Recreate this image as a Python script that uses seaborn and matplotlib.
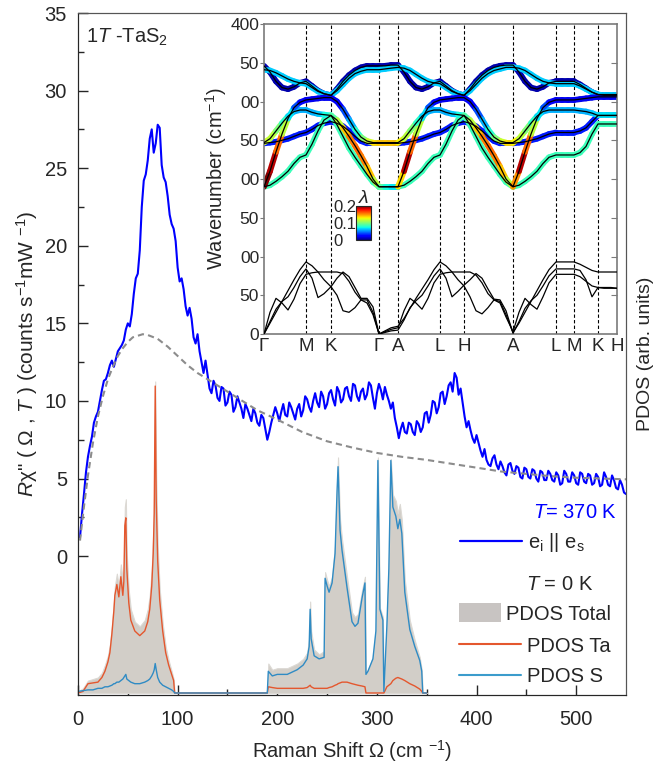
import matplotlib
matplotlib.use("Agg")
import matplotlib.pyplot as plt
import seaborn as sns
import numpy as np
from matplotlib.collections import LineCollection
from matplotlib.colors import Normalize
from matplotlib.cm import ScalarMappable
from matplotlib.lines import Line2D
from matplotlib.patches import Rectangle

# ---- Raman spectrum (T = 370 K) ----
raman_x = list(range(2, 551, 2))
raman_y = [1.2, 2.7, 4.0, 5.4, 6.4, 7.1, 7.7, 8.6, 9.0, 9.3, 10.0, 10.7, 11.3, 11.4, 11.8, 12.3, 12.6, 12.2, 12.7, 13.2,
           13.4, 13.6, 13.9, 14.6, 15.0, 14.8, 15.6, 16.9, 17.9, 18.2, 19.7, 22.5, 24.2, 24.6, 25.5, 26.9, 27.5, 26.0, 26.6, 27.8,
           27.6, 25.2, 24.4, 24.1, 23.2, 22.0, 21.4, 21.1, 20.3, 18.6, 17.7, 17.9, 17.2, 16.1, 15.5, 16.0, 15.3, 14.1, 13.7, 14.3,
           13.2, 12.5, 11.8, 12.6, 11.7, 10.8, 10.5, 11.3, 11.0, 10.2, 10.0, 10.9, 10.8, 9.7, 9.9, 10.6, 10.4, 9.3, 9.6, 10.3,
           9.9, 9.5, 8.9, 9.8, 9.5, 9.1, 8.7, 9.5, 9.2, 8.6, 8.4, 9.1, 8.9, 8.2, 7.5, 8.0, 8.6, 9.1, 9.6, 9.2,
           8.7, 9.3, 9.8, 9.1, 9.0, 9.9, 9.6, 9.2, 8.8, 9.5, 9.8, 9.0, 9.4, 10.3, 10.1, 9.6, 9.3, 10.0, 10.5, 9.9,
           9.6, 10.6, 10.3, 9.5, 9.8, 10.5, 10.7, 10.1, 9.7, 10.9, 10.6, 9.9, 10.1, 10.8, 10.9, 10.3, 10.0, 11.1, 11.0, 10.3,
           10.0, 10.6, 10.8, 10.1, 10.4, 11.2, 11.0, 10.2, 9.5, 10.5, 11.1, 10.7, 10.1, 10.9, 10.4, 10.0, 9.5, 9.9, 8.9, 8.3,
           7.6, 8.2, 8.6, 8.0, 7.9, 8.6, 8.5, 8.0, 7.8, 8.7, 8.5, 8.0, 8.3, 9.2, 9.3, 8.6, 9.1, 10.0, 9.9, 9.2,
           9.6, 10.5, 10.6, 9.8, 10.3, 11.0, 11.2, 10.6, 11.8, 11.5, 10.4, 10.8, 9.9, 9.0, 8.3, 8.7, 8.1, 7.6, 7.3, 7.8,
           7.3, 6.8, 6.4, 6.9, 6.2, 5.9, 5.8, 6.3, 6.5, 5.9, 5.6, 6.1, 5.8, 5.4, 5.2, 5.9, 6.0, 5.5, 5.3, 5.8,
           5.7, 5.1, 5.0, 5.7, 5.6, 5.1, 5.0, 5.6, 5.5, 5.0, 4.8, 5.5, 5.4, 4.9, 4.9, 5.5, 5.3, 4.9, 4.8, 5.4,
           5.2, 4.6, 4.7, 5.5, 5.3, 4.8, 4.8, 5.4, 5.2, 4.7, 4.6, 5.4, 5.3, 4.8, 4.7, 5.3, 5.2, 4.6, 4.7, 5.3,
           5.1, 4.5, 4.6, 5.4, 5.1, 4.6, 4.5, 5.2, 4.9, 4.4, 4.3, 4.9, 4.6, 4.1, 4.0]

# ---- background (dashed) ----
bg_x = [2, 6, 10, 15, 20, 25, 30, 35, 40, 45, 50, 55, 60, 65, 70, 80, 90, 100, 110, 120,
        140, 160, 180, 200, 225, 250, 275, 300, 325, 350, 375, 400, 425, 450, 475, 500, 525, 550]
bg_y = [1.0, 3.2, 5.2, 7.3, 9.0, 10.3, 11.4, 12.2, 12.9, 13.4, 13.8, 14.1, 14.2, 14.3, 14.25, 14.0,
        13.5, 12.9, 12.3, 11.8, 11.0, 10.2, 9.4, 8.8, 8.0, 7.4, 7.0, 6.65, 6.4, 6.2, 5.95, 5.7,
        5.45, 5.3, 5.15, 5.05, 5.0, 4.95]

# ---- PDOS (T = 0 K), arbitrary units ----
pdos_x = [0, 5, 10, 15, 20, 24, 27, 30, 32, 34, 36, 37, 39, 41, 43, 45, 46, 47, 48, 49,
          51, 53, 57, 62, 67, 70, 72, 74, 75.5, 76.5, 77.5, 78.5, 80, 82, 85, 88, 91, 94, 96, 97,
          135, 190, 191, 195, 200, 210, 220, 226, 230, 232, 233, 234, 237, 242, 247, 248, 250, 252, 255, 258,
          260, 261, 263, 265, 270, 275, 278, 281, 285, 288, 289, 291, 296, 299, 301, 303, 306, 307, 310, 312,
          314, 316, 319, 321, 323, 325, 328, 333, 338, 343, 345, 346, 350]
pdos_ta = [0, 0.1, 0.6, 0.65, 0.7, 1.0, 1.4, 2.0, 2.6, 3.8, 5.3, 6.3, 7.0, 6.2, 7.5, 6.3, 7.2, 10.8, 11.3, 8.0,
           5.8, 4.7, 4.0, 3.7, 4.0, 4.6, 5.4, 6.9, 9.0, 11.6, 19.8, 12.5, 8.5, 6.0, 4.0, 2.6, 1.8, 1.2, 0.8, 0,
           0, 0, 0.4, 0.35, 0.3, 0.3, 0.3, 0.3, 0.35, 0.45, 0.5, 0.4, 0.3, 0.3, 0.3, 0.3, 0.3, 0.35, 0.4, 0.5,
           0.55, 0.6, 0.65, 0.7, 0.7, 0.6, 0.55, 0.5, 0.45, 0.4, 0, 0, 0, 0, 0, 0, 0, 0, 0.4, 0.5,
           0.6, 0.8, 0.95, 1.0, 0.95, 0.9, 0.8, 0.6, 0.45, 0.25, 0.1, 0, 0]
pdos_s = [0.1, 0.15, 0.2, 0.2, 0.3, 0.3, 0.4, 0.4, 0.45, 0.5, 0.6, 0.6, 0.7, 0.7, 0.8, 0.9, 1.0, 1.1, 1.2, 0.9,
          0.8, 0.7, 0.6, 0.6, 0.7, 0.8, 0.9, 1.1, 1.3, 1.5, 1.9, 1.5, 1.0, 0.7, 0.5, 0.4, 0.3, 0.2, 0.1, 0,
          0, 0, 1.4, 1.1, 1.2, 1.2, 1.5, 1.8, 2.2, 3.0, 5.4, 3.5, 2.4, 2.2, 2.3, 7.4, 6.9, 6.5, 7.1, 9.0,
          13.0, 14.6, 10.5, 9.2, 6.8, 4.6, 4.3, 4.5, 6.1, 7.1, 1.2, 1.4, 2.2, 4.0, 15.0, 5.4, 4.7, 0.1, 4.3, 8.0,
          15.0, 12.0, 11.4, 10.6, 11.2, 10.3, 6.5, 4.1, 3.0, 2.1, 1.4, 0, 0]
pdos_total = [0.1, 0.3, 0.8, 0.9, 1.0, 1.3, 1.8, 2.4, 3.1, 4.3, 5.9, 6.9, 7.7, 6.9, 8.3, 7.2, 8.2, 12.0, 12.5, 8.9,
              6.6, 5.4, 4.6, 4.3, 4.7, 5.4, 6.3, 8.0, 10.3, 13.1, 20.1, 14.0, 9.5, 6.7, 4.5, 3.0, 2.1, 1.4, 0.9, 0,
              0, 0, 1.9, 1.5, 1.6, 1.6, 1.9, 2.2, 2.6, 3.5, 5.9, 4.0, 2.8, 2.5, 2.7, 7.8, 7.3, 6.9, 7.5, 9.5,
              13.6, 15.2, 11.2, 9.9, 7.5, 5.2, 4.9, 5.1, 6.6, 7.5, 1.3, 1.5, 2.3, 4.2, 15.2, 5.5, 4.9, 0.2, 4.7, 8.5,
              15.1, 12.8, 12.4, 11.6, 12.2, 11.2, 7.3, 4.7, 3.4, 2.3, 1.5, 0, 0]

# ---- inset: phonon dispersion ----
hs_labels = ["Γ", "M", "K", "Γ", "A", "L", "H", "A", "L", "M", "K", "H"]
hs_pos = [0, 42, 67, 115, 134, 176, 200, 249, 292, 310, 334, 353]
k_path = [0, 6, 12, 18, 24, 30, 36, 42, 48, 54, 60, 67, 73, 79, 85, 91, 97, 103, 109, 115,
          121, 127, 134, 140, 146, 152, 158, 164, 170, 176, 182, 188, 194, 200,
          206, 212, 218, 224, 230, 236, 242, 249, 255, 261, 267, 273, 279, 285, 292,
          298, 304, 310, 316, 322, 328, 334, 340, 347, 353]

# acoustic branches (black)
ac_1 = [0, 28, 46, 40, 31, 45, 65, 77, 79, 80, 80, 80, 80, 78, 68, 54, 44, 40, 25, 0,
        3, 6, 8, 30, 46, 40, 32, 46, 66, 77, 79, 80, 80, 80,
        80, 76, 66, 52, 44, 40, 22, 3, 28, 46, 38, 32, 48, 66, 77,
        77, 77, 77, 74, 68, 62, 60, 59, 59, 59]
ac_2 = [0, 16, 32, 42, 48, 60, 74, 84, 72, 47, 52, 61, 72, 80, 74, 60, 46, 46, 35, 0,
        2, 4, 5, 18, 34, 43, 50, 62, 75, 84, 72, 48, 55, 63,
        70, 78, 72, 58, 45, 44, 30, 1, 16, 33, 43, 50, 62, 75, 84,
        84, 84, 84, 82, 70, 48, 60, 60, 60, 59]
ac_3 = [0, 14, 28, 42, 56, 70, 83, 93, 88, 80, 70, 61, 50, 30, 28, 34, 44, 44, 28, 0,
        4, 8, 10, 20, 33, 46, 58, 70, 83, 93, 88, 80, 70, 62,
        48, 30, 26, 34, 44, 42, 25, 2, 14, 28, 42, 56, 70, 83, 93,
        93, 93, 93, 90, 86, 82, 80, 80, 80, 80]

# optical branches (coloured by lambda)
op_1 = [346, 338, 326, 318, 316, 319, 324, 326, 320, 314, 310, 308, 316, 326, 334, 340, 344, 346, 346, 346,
        346, 347, 347, 338, 326, 318, 316, 319, 324, 326, 320, 314, 310, 308,
        316, 326, 334, 340, 344, 346, 347, 347, 338, 326, 318, 316, 319, 324, 326,
        326, 326, 326, 322, 317, 312, 309, 309, 309, 309]
op_2 = [341, 340, 337, 333, 329, 326, 324, 323, 318, 313, 310, 308, 314, 322, 330, 336, 339, 341, 341, 341,
        342, 343, 344, 343, 340, 335, 330, 326, 324, 323, 318, 313, 310, 308,
        314, 322, 330, 336, 340, 342, 344, 344, 343, 340, 335, 330, 326, 324, 323,
        323, 323, 323, 320, 316, 312, 309, 308, 308, 308]
op_3 = [190, 210, 235, 258, 278, 292, 299, 302, 303, 304, 305, 305, 300, 290, 277, 264, 254, 249, 247, 247,
        247, 247, 247, 252, 262, 272, 281, 287, 289, 289, 286, 284, 283, 282,
        276, 266, 255, 243, 230, 216, 200, 190, 210, 235, 258, 278, 292, 299, 302,
        302, 302, 302, 303, 304, 305, 306, 306, 306, 306]
op_4 = [247, 252, 262, 272, 281, 287, 289, 289, 286, 284, 283, 282, 276, 266, 255, 243, 230, 216, 200, 190,
        190, 190, 190, 210, 235, 258, 278, 292, 299, 302, 303, 304, 305, 305,
        300, 290, 277, 264, 254, 249, 247, 247, 252, 262, 272, 281, 287, 289, 289,
        289, 289, 289, 288, 287, 285, 282, 282, 282, 282]
op_5 = [246, 247, 248, 250, 252, 255, 258, 260, 264, 269, 272, 274, 272, 268, 262, 255, 249, 246, 246, 246,
        246, 246, 246, 247, 248, 250, 252, 255, 258, 260, 264, 269, 272, 274,
        272, 268, 262, 255, 249, 246, 246, 246, 247, 248, 250, 252, 255, 258, 260,
        260, 260, 260, 262, 266, 274, 282, 282, 282, 282]
op_6 = [190, 192, 197, 203, 210, 220, 228, 231, 245, 262, 276, 282, 270, 255, 240, 228, 217, 206, 196, 190,
        190, 190, 190, 192, 197, 203, 210, 220, 228, 231, 245, 262, 276, 282,
        270, 255, 240, 228, 217, 206, 196, 190, 192, 197, 203, 210, 220, 228, 231,
        231, 231, 231, 234, 242, 258, 271, 271, 271, 271]

# electron-phonon coupling lambda along each optical branch
lam_1 = 0.008
lam_2 = 0.065
lam_3 = [0.20, 0.20, 0.18, 0.14, 0.09, 0.05, 0.03, 0.02, 0.02, 0.02, 0.02, 0.02, 0.02, 0.03, 0.05, 0.07, 0.09, 0.11, 0.13, 0.14,
         0.14, 0.14, 0.14, 0.12, 0.11, 0.09, 0.07, 0.06, 0.06, 0.06, 0.06, 0.06, 0.07, 0.08,
         0.10, 0.13, 0.15, 0.16, 0.16, 0.15, 0.13, 0.10, 0.20, 0.18, 0.14, 0.09, 0.05, 0.03, 0.02,
         0.02, 0.02, 0.02, 0.02, 0.02, 0.02, 0.02, 0.02, 0.02, 0.02]
lam_4 = [0.12, 0.12, 0.11, 0.09, 0.07, 0.06, 0.06, 0.06, 0.06, 0.06, 0.07, 0.08, 0.10, 0.13, 0.15, 0.16, 0.16, 0.15, 0.13, 0.10,
         0.08, 0.07, 0.07, 0.20, 0.18, 0.14, 0.09, 0.05, 0.03, 0.02, 0.02, 0.02, 0.02, 0.02,
         0.02, 0.03, 0.05, 0.07, 0.09, 0.11, 0.13, 0.14, 0.12, 0.11, 0.09, 0.07, 0.06, 0.06, 0.06,
         0.06, 0.06, 0.06, 0.06, 0.06, 0.06, 0.07, 0.07, 0.07, 0.07]
lam_5 = 0.03
lam_6 = 0.085

sns.set_style("ticks")
plt.rcParams["font.family"] = ["Liberation Sans", "DejaVu Sans"]
plt.rcParams["mathtext.fontset"] = "custom"
plt.rcParams["mathtext.rm"] = "Liberation Sans"
plt.rcParams["mathtext.it"] = "Liberation Sans:italic"
plt.rcParams["mathtext.bf"] = "Liberation Sans:bold"

W, H = 654, 766
fig = plt.figure(figsize=(W / 100, H / 100), dpi=100)


def px_axes(x0, y0, x1, y1):
    return [x0 / W, 1 - y1 / H, (x1 - x0) / W, (y1 - y0) / H]


def fx(px):
    return (px - 78) / 548


def fy(py):
    return (695 - py) / 682


BLUE = "#0000ff"
TA_C = "#e4572e"
S_C = "#2f8bc4"
FILL_C = "#d2cec8"
FS = 14.5

ax = fig.add_axes(px_axes(78, 13, 626, 695))
sns.lineplot(x=raman_x, y=raman_y, color=BLUE, lw=1.5, ax=ax)
sns.lineplot(x=bg_x, y=bg_y, color="#8c8c8c", lw=1.5, linestyle=(0, (3, 2)), ax=ax)
ax.set_xlim(0, 550)
ax.set_ylim(-8.95, 35)
ax.set_xticks([0, 100, 200, 300, 400, 500])
ax.set_xticks([50, 150, 250, 350, 450], minor=True)
ax.set_yticks([0, 5, 10, 15, 20, 25, 30, 35])
ax.set_yticks([2.5, 7.5, 12.5, 17.5, 22.5, 27.5, 32.5], minor=True)
ax.tick_params(which="both", direction="in", labelsize=FS, width=1, top=False, right=False)
ax.tick_params(which="major", length=7)
ax.tick_params(which="minor", length=4)
ax.tick_params(axis="x", pad=11)
ax.tick_params(axis="y", pad=8)
ax.set_xlabel("Raman Shift Ω (cm $^{-1}$)", fontsize=FS, labelpad=6)
ax.set_ylabel("$R$χ\" ( Ω , $T$ ) (counts s$^{-1}$mW $^{-1}$)", fontsize=15, labelpad=3)
for side in ["top", "right"]:
    ax.spines[side].set_color("#555555")
ax.text(fx(86), fy(27), "$1T$ -TaS$_2$", transform=ax.transAxes, fontsize=FS, va="top", ha="left")

ax2 = ax.twinx()
ax2.fill_between(pdos_x, 0, pdos_total, color=FILL_C, lw=0.8, edgecolor="#dcd9d4")
sns.lineplot(x=pdos_x, y=pdos_ta, color=TA_C, lw=1.0, ax=ax2)
sns.lineplot(x=pdos_x, y=pdos_s, color=S_C, lw=1.0, ax=ax2)
ax2.set_ylim(-0.13, 43.87)
ax2.set_yticks([])
ax2.set_ylabel("PDOS (arb. units)", fontsize=14, labelpad=8)
for side in ["top", "right"]:
    ax2.spines[side].set_color("#555555")

# legend, drawn by hand to keep the right-hand layout of the original
tr = ax2.transAxes
ax2.text(fx(617), fy(512), "$T$= 370 K", transform=tr, ha="right", va="center", fontsize=FS, color=BLUE)
ax2.add_line(Line2D([fx(460), fx(522)], [fy(541), fy(541)], transform=tr, color=BLUE, lw=1.6))
ax2.text(fx(528), fy(542), "e$_{\\rm i}$ || e$_{\\rm s}$", transform=tr, ha="left", va="center", fontsize=FS)
ax2.text(fx(593), fy(585), "$T$ = 0 K", transform=tr, ha="right", va="center", fontsize=FS)
ax2.add_patch(Rectangle((fx(459), fy(622)), fx(501) - fx(459), fy(603) - fy(622), transform=tr,
                        facecolor="#c8c4c2", edgecolor="none"))
ax2.text(fx(506), fy(614), "PDOS Total", transform=tr, ha="left", va="center", fontsize=FS)
ax2.add_line(Line2D([fx(459), fx(521)], [fy(644), fy(644)], transform=tr, color=TA_C, lw=1.5))
ax2.text(fx(527), fy(646), "PDOS Ta", transform=tr, ha="left", va="center", fontsize=FS)
ax2.add_line(Line2D([fx(459), fx(521)], [fy(675), fy(675)], transform=tr, color="#3b9ccc", lw=1.5))
ax2.text(fx(527), fy(676), "PDOS S", transform=tr, ha="left", va="center", fontsize=FS)

# ---- inset ----
axi = fig.add_axes(px_axes(264, 24, 617, 334))
axi.set_zorder(5)
axi.set_facecolor("white")
norm = Normalize(0, 0.2)
cmap = plt.get_cmap("jet")
for p in hs_pos[1:-1]:
    axi.axvline(p, color="k", lw=0.8, linestyle=(0, (3, 2)), zorder=1)
for br in [ac_1, ac_2, ac_3]:
    axi.plot(k_path, br, color="k", lw=0.9, zorder=3)
kp = np.asarray(k_path, dtype=float)
for br, lam in [(op_1, lam_1), (op_2, lam_2), (op_5, lam_5), (op_6, lam_6), (op_4, lam_4), (op_3, lam_3)]:
    pts = np.column_stack([kp, np.asarray(br, dtype=float)])
    segs = np.stack([pts[:-1], pts[1:]], axis=1)
    lam_arr = np.broadcast_to(np.asarray(lam, dtype=float), kp.shape)
    lc = LineCollection(segs, cmap=cmap, norm=norm, lw=4.2, capstyle="round", zorder=2)
    lc.set_array(0.5 * (lam_arr[:-1] + lam_arr[1:]))
    axi.add_collection(lc)
    axi.plot(k_path, br, color="k", lw=0.9, zorder=3)
axi.set_xlim(0, 353)
axi.set_ylim(0, 400)
axi.set_xticks(hs_pos)
axi.set_xticklabels(hs_labels, fontsize=13.5)
axi.set_yticks([0, 50, 100, 150, 200, 250, 300, 350, 400])
axi.set_yticklabels(["0", "50", "00", "50", "00", "50", "00", "50", "400"], fontsize=12.5)
axi.tick_params(axis="x", length=0, pad=3)
axi.tick_params(axis="y", direction="out", length=3, pad=0.5, color="#7a7a7a")
axi.set_ylabel("Wavenumber (cm$^{-1}$)", fontsize=14.5, labelpad=1)
for s in axi.spines.values():
    s.set_color("#7a7a7a")
    s.set_linewidth(1.2)
axr = axi.twinx()
axr.set_zorder(5)
axr.set_ylim(0, 400)
axr.set_yticks([50, 100, 150, 200, 250, 300, 350])
axr.set_yticklabels([])
axr.tick_params(direction="in", length=4, color="#7a7a7a")
for s in axr.spines.values():
    s.set_visible(False)

cax = fig.add_axes(px_axes(356, 206, 371, 240))
cax.set_zorder(6)
cb = fig.colorbar(ScalarMappable(norm=norm, cmap=cmap), cax=cax, ticks=[0, 0.1, 0.2])
cb.outline.set_linewidth(0.8)
cax.yaxis.set_ticks_position("left")
cax.set_yticklabels(["0", "0.1", "0.2"], fontsize=12)
for t in cax.get_yticklabels():
    t.set_horizontalalignment("left")
cax.tick_params(length=0, pad=16)
cax.text(0.5, 0.96, "λ", transform=cax.transAxes, fontsize=14, ha="center", va="bottom", style="italic")

fig.savefig("out.png", dpi=100)
